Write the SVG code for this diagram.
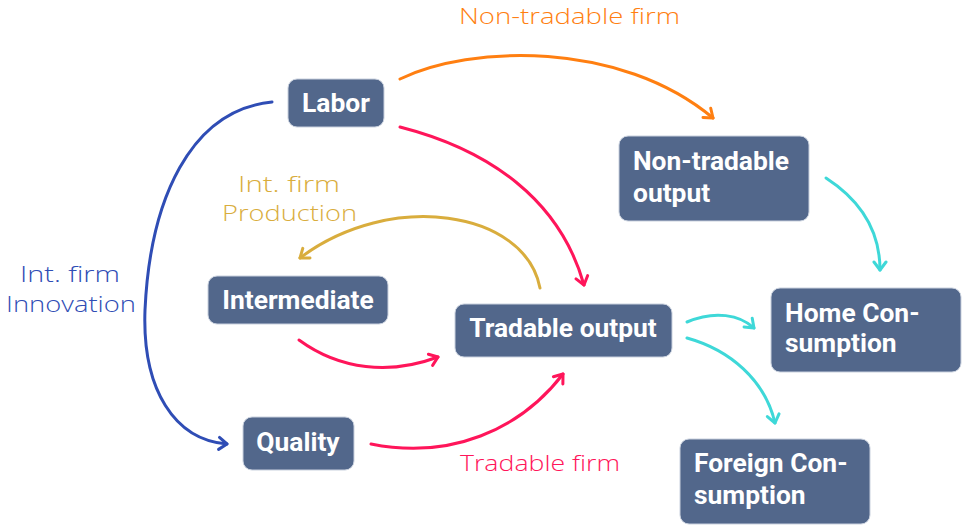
<svg xmlns="http://www.w3.org/2000/svg" width="963" height="526" viewBox="0 0 963 526">
<style>
.box{fill:#52678b;stroke:#c9d1de;stroke-width:1}
.nt{font-family:Roboto,"Liberation Sans",sans-serif;font-weight:bold;font-size:26.4px;fill:#ffffff}
.lbl{font-family:"Open Sans","Liberation Sans",sans-serif;font-weight:300;font-size:22px}
.c{fill:none;stroke-width:3;stroke-linecap:round}
</style>
<defs>
<marker id="mo" viewBox="-10 -8 12 16" markerWidth="12" markerHeight="16" markerUnits="userSpaceOnUse" refX="0" refY="0" orient="auto"><path d="M-8,-6 L0,0 L-8,6" fill="none" stroke="#ff7f11" stroke-width="3" stroke-linecap="round" stroke-linejoin="round"/></marker>
<marker id="mr" viewBox="-10 -8 12 16" markerWidth="12" markerHeight="16" markerUnits="userSpaceOnUse" refX="0" refY="0" orient="auto"><path d="M-8,-6 L0,0 L-8,6" fill="none" stroke="#ff155a" stroke-width="3" stroke-linecap="round" stroke-linejoin="round"/></marker>
<marker id="mg" viewBox="-10 -8 12 16" markerWidth="12" markerHeight="16" markerUnits="userSpaceOnUse" refX="0" refY="0" orient="auto"><path d="M-8,-6 L0,0 L-8,6" fill="none" stroke="#d9ad3d" stroke-width="3" stroke-linecap="round" stroke-linejoin="round"/></marker>
<marker id="mb" viewBox="-10 -8 12 16" markerWidth="12" markerHeight="16" markerUnits="userSpaceOnUse" refX="0" refY="0" orient="auto"><path d="M-8,-6 L0,0 L-8,6" fill="none" stroke="#2f4db5" stroke-width="3" stroke-linecap="round" stroke-linejoin="round"/></marker>
<marker id="mc" viewBox="-10 -8 12 16" markerWidth="12" markerHeight="16" markerUnits="userSpaceOnUse" refX="0" refY="0" orient="auto"><path d="M-8,-6 L0,0 L-8,6" fill="none" stroke="#3ed8d8" stroke-width="3" stroke-linecap="round" stroke-linejoin="round"/></marker>
</defs>
<rect width="963" height="526" fill="#ffffff"/>
<g id="connectors">
<path class="c" stroke="#ff7f11" d="M400,79 C470,45 620,40 713,118" marker-end="url(#mo)"/>
<path class="c" stroke="#ff155a" d="M400,127 C490,150 560,200 584,285" marker-end="url(#mr)"/>
<path class="c" stroke="#d9ad3d" d="M540,288 C525,210 390,190 300,258" marker-end="url(#mg)"/>
<path class="c" stroke="#2f4db5" d="M272,102 C190,110 150,200 145,310 C142,390 175,440 227,444" marker-end="url(#mb)"/>
<path class="c" stroke="#ff155a" d="M299,340 C340,370 390,375 438,357" marker-end="url(#mr)"/>
<path class="c" stroke="#ff155a" d="M371,444 C450,460 520,430 563,374" marker-end="url(#mr)"/>
<path class="c" stroke="#3ed8d8" d="M826,178 C860,200 880,230 880,270" marker-end="url(#mc)"/>
<path class="c" stroke="#3ed8d8" d="M687,322 C715,310 740,315 754,328" marker-end="url(#mc)"/>
<path class="c" stroke="#3ed8d8" d="M687,338 C730,350 765,380 775,423" marker-end="url(#mc)"/>
</g>
<g id="labels">
<text class="lbl" fill="#ff7f11" x="459" y="24" textLength="221" lengthAdjust="spacingAndGlyphs">Non-tradable firm</text>
<text class="lbl" fill="#d9ad3d" x="238" y="192" textLength="102" lengthAdjust="spacingAndGlyphs">Int. firm</text>
<text class="lbl" fill="#d9ad3d" x="222" y="221" textLength="135" lengthAdjust="spacingAndGlyphs">Production</text>
<text class="lbl" fill="#2f4db5" x="20" y="282" textLength="100" lengthAdjust="spacingAndGlyphs">Int. firm</text>
<text class="lbl" fill="#2f4db5" x="6" y="312" textLength="130" lengthAdjust="spacingAndGlyphs">Innovation</text>
<text class="lbl" fill="#ff155a" x="460" y="471" textLength="160" lengthAdjust="spacingAndGlyphs">Tradable firm</text>
</g>
<g id="labor"><rect class="box" x="288" y="79" width="96" height="48" rx="9"/><text class="nt" x="336" y="112" text-anchor="middle">Labor</text></g>
<g id="nontradable"><rect class="box" x="619" y="136" width="190" height="85" rx="9"/><text class="nt" x="633" y="170">Non-tradable</text><text class="nt" x="633" y="202">output</text></g>
<g id="intermediate"><rect class="box" x="208" y="276" width="180" height="48" rx="9"/><text class="nt" x="298" y="309" text-anchor="middle">Intermediate</text></g>
<g id="quality"><rect class="box" x="243" y="417" width="111" height="53" rx="9"/><text class="nt" x="298" y="451" text-anchor="middle">Quality</text></g>
<g id="tradable"><rect class="box" x="455" y="304" width="217" height="53" rx="9"/><text class="nt" x="563" y="337" text-anchor="middle">Tradable output</text></g>
<g id="home"><rect class="box" x="771" y="288" width="190" height="84" rx="9"/><text class="nt" x="785" y="322">Home Con-</text><text class="nt" x="785" y="352">sumption</text></g>
<g id="foreign"><rect class="box" x="680" y="439" width="190" height="85" rx="9"/><text class="nt" x="694" y="472">Foreign Con-</text><text class="nt" x="694" y="504">sumption</text></g>
</svg>
